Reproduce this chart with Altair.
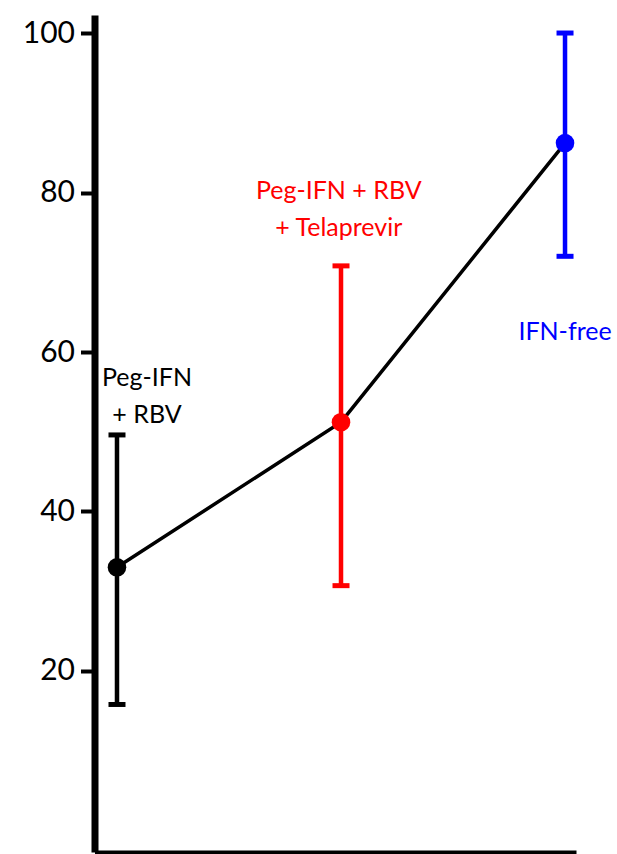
import altair as alt
import pandas as pd

categories = ["Peg-IFN + RBV", "Peg-IFN + RBV + Telaprevir", "IFN-free"]
label_texts = ["Peg-IFN\n+ RBV", "Peg-IFN + RBV\n+ Telaprevir", "IFN-free"]
positions = [1, 2, 3]
values = [33.0, 51.2, 86.2]
lower = [15.8, 30.7, 72.0]
upper = [49.6, 70.8, 100.0]
colors = ["#000000", "#FF0000", "#0000FF"]
label_x = [1.134, 1.99, 3.0]
label_y = [55.7, 79.2, 61.5]
y_ticks = [20, 40, 60, 80, 100]

df = pd.DataFrame({
    "cat": categories,
    "pos": positions,
    "val": values,
    "lo": lower,
    "hi": upper,
    "label": label_texts,
    "lx": label_x,
    "ly": label_y,
})

FONT = "Lato"
xscale = alt.Scale(domain=[0.8996, 3.049], nice=False, zero=False)
yscale = alt.Scale(domain=[-2.7, 102.26], nice=False, zero=False)
cscale = alt.Scale(domain=categories, range=colors)

x = alt.X("pos:Q", scale=xscale,
          axis=alt.Axis(title=None, labels=False, ticks=False, grid=False,
                        domainColor="black", domainWidth=4))
y = alt.Y("val:Q", scale=yscale,
          axis=alt.Axis(title=None, values=y_ticks, grid=False,
                        domainColor="black", domainWidth=7,
                        tickColor="black", tickWidth=4, tickSize=14,
                        labelPadding=6, labelFont=FONT, labelFontSize=30,
                        labelColor="black"))
color = alt.Color("cat:N", scale=cscale, legend=None)

base = alt.Chart(df)

bars = base.mark_rule(strokeWidth=4.5).encode(
    x=x, y=alt.Y("lo:Q", scale=yscale), y2="hi:Q", color=color)
cap_lo = base.mark_tick(orient="horizontal", size=17, thickness=5, opacity=1).encode(
    x=alt.X("pos:Q", scale=xscale), y=alt.Y("lo:Q", scale=yscale), color=color)
cap_hi = base.mark_tick(orient="horizontal", size=17, thickness=5, opacity=1).encode(
    x=alt.X("pos:Q", scale=xscale), y=alt.Y("hi:Q", scale=yscale), color=color)
line = base.mark_line(color="black", strokeWidth=3.5).encode(x=x, y=y)
points = base.mark_circle(size=346, opacity=1).encode(x=x, y=y, color=color)
labels = base.mark_text(font=FONT, fontSize=25, align="center",
                        baseline="alphabetic", lineBreak="\n", lineHeight=37).encode(
    x=alt.X("lx:Q", scale=xscale), y=alt.Y("ly:Q", scale=yscale),
    text="label:N", color=color)

chart = alt.layer(bars, cap_lo, cap_hi, line, points, labels).properties(
    width=481.5, height=837,
    autosize=alt.AutoSizeParams(type="none"),
    padding={"left": 94.5, "top": 15, "right": 41, "bottom": 2},
    background="white",
).configure_view(stroke=None)

chart.save("out.html", embed_options={"renderer": "svg", "actions": False})
